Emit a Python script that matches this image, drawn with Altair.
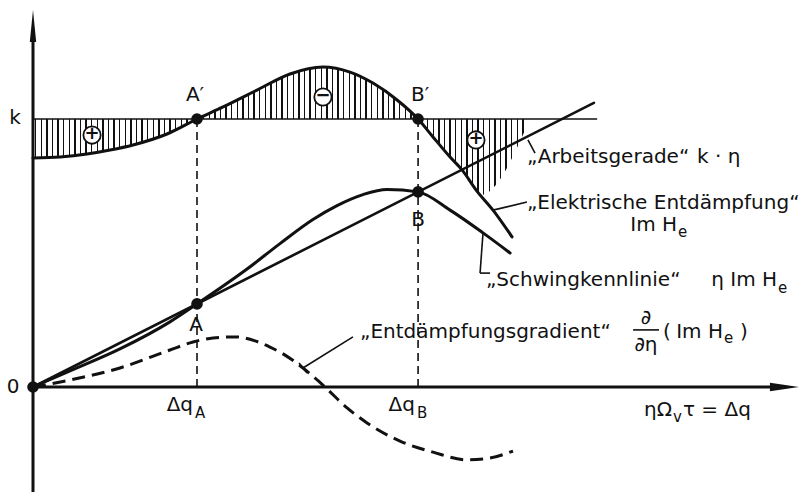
import altair as alt
import pandas as pd

# --- curves (x = eta*Omega_v*tau = Δq, y in units of k) ---------------------
imhe_x = [0.0, 0.165, 0.329, 0.470, 0.610, 0.817, 1.0, 1.159, 1.366, 1.567, 1.768,
          1.933, 2.073, 2.220, 2.348, 2.439, 2.543, 2.616, 2.707, 2.805, 2.921]
imhe_y = [0.854, 0.858, 0.869, 0.884, 0.903, 0.944, 1.0, 1.045, 1.108, 1.168, 1.194,
          1.175, 1.134, 1.071, 1.0, 0.933, 0.858, 0.810, 0.731, 0.660, 0.560]

schwing_x = [0.0, 0.226, 0.530, 0.835, 1.0, 1.305, 1.506, 1.707, 1.854,
             2.012, 2.159, 2.348, 2.543, 2.744, 2.909]
schwing_y = [0.0, 0.060, 0.142, 0.243, 0.310, 0.440, 0.535, 0.625, 0.677,
             0.718, 0.737, 0.728, 0.660, 0.575, 0.500]

grad_x = [0.0, 0.226, 0.530, 0.835, 0.976, 1.098, 1.232, 1.354, 1.445, 1.537, 1.646,
          1.780, 1.915, 2.037, 2.238, 2.439, 2.646, 2.787, 2.927]
grad_y = [0.0, 0.026, 0.071, 0.138, 0.168, 0.183, 0.187, 0.172, 0.149, 0.119, 0.071,
          0.0, -0.078, -0.134, -0.202, -0.243, -0.272, -0.265, -0.239]

k_level = 1.0
k_slope = 0.31          # Arbeitsgerade k·η
line_x_end = 3.42
k_line_end = 3.44

# hatched region between Im He and k (closing edge on the right)
hatch_x = imhe_x[:19] + [2.726, 3.030]
hatch_y = imhe_y[:19] + [0.716, 1.0]

# operating points A', B' (on k) and A, B (on Arbeitsgerade)
dq_a, dq_b = 1.0, 2.348

# --- scales -----------------------------------------------------------------
xs = alt.Scale(domain=[-0.2012, 4.7012], nice=False, zero=False)
ys = alt.Scale(domain=[-0.3918, 1.444], nice=False, zero=False)
X = lambda f="x": alt.X(f"{f}:Q", scale=xs, axis=None)
Y = lambda f="y": alt.Y(f"{f}:Q", scale=ys, axis=None)
INK = "#111111"
FONT = "DejaVu Sans"


def df(**cols):
    return pd.DataFrame(cols)


# vertical hatching drawn as a striped gradient fill
stops = [alt.GradientStop(offset=0, color="rgba(0,0,0,0)")]
width_px, step_px, lw_px = 497.0, 5.6, 1.5
n = int(width_px // step_px)
for i in range(n):
    s = (2.0 + i * step_px) / width_px
    e = min(1.0, s + lw_px / width_px)
    stops += [alt.GradientStop(offset=s, color="rgba(0,0,0,0)"),
              alt.GradientStop(offset=s, color=INK),
              alt.GradientStop(offset=e, color=INK),
              alt.GradientStop(offset=e, color="rgba(0,0,0,0)")]
hatch_fill = alt.LinearGradient(gradient="linear", stops=stops, x1=0, x2=1, y1=0, y2=0)

hatch = alt.Chart(df(x=hatch_x, y=hatch_y, y2=[k_level] * len(hatch_x))).mark_area(
    color=hatch_fill, interpolate="monotone"
).encode(x=X(), y=Y(), y2="y2:Q")

k_line = alt.Chart(df(x=[0.0], x2=[k_line_end], y=[k_level])).mark_rule(
    color=INK, strokeWidth=1.6
).encode(x=X(), x2="x2:Q", y=Y())

imhe = alt.Chart(df(x=imhe_x, y=imhe_y)).mark_line(
    color=INK, strokeWidth=3, interpolate="monotone", strokeCap="round"
).encode(x=X(), y=Y())

schwing = alt.Chart(df(x=schwing_x, y=schwing_y)).mark_line(
    color=INK, strokeWidth=3, interpolate="monotone", strokeCap="round"
).encode(x=X(), y=Y())

arbeit = alt.Chart(df(x=[0.0], x2=[line_x_end], y=[0.0], y2=[k_slope * line_x_end])).mark_rule(
    color=INK, strokeWidth=2.6, strokeCap="round"
).encode(x=X(), x2="x2:Q", y=Y(), y2="y2:Q")

gradient = alt.Chart(df(x=grad_x, y=grad_y)).mark_line(
    color=INK, strokeWidth=3, interpolate="monotone", strokeDash=[13, 7]
).encode(x=X(), y=Y())

drops = alt.Chart(df(x=[dq_a, dq_b], y=[0.0, 0.0], y2=[k_level, k_level])).mark_rule(
    color=INK, strokeWidth=1.6, strokeDash=[8, 5]
).encode(x=X(), y=Y(), y2="y2:Q")

# axes with arrow heads
axes = alt.Chart(df(x=[0.0, 0.0], x2=[0.0, 4.52], y=[-0.392, 0.0], y2=[1.30, 0.0])).mark_rule(
    color=INK, strokeWidth=3
).encode(x=X(), x2="x2:Q", y=Y(), y2="y2:Q")
arrow_up = alt.Chart(df(x=[0.0], y=[1.347])).mark_point(
    shape="M0,-1L0.2,1L-0.2,1Z", size=1024, filled=True, color=INK, opacity=1
).encode(x=X(), y=Y())
arrow_right = alt.Chart(df(x=[4.582], y=[0.0])).mark_point(
    shape="M1,0L-1,-0.3L-1,0.3Z", size=841, filled=True, color=INK, opacity=1
).encode(x=X(), y=Y())

# leader lines for the curve labels
leaders = alt.Chart(df(
    x=[3.018, 2.805, 2.744, 2.726, 1.951, 1.622],
    x2=[3.061, 3.012, 2.726, 2.787, 1.646, 1.671],
    y=[0.922, 0.660, 0.575, 0.425, 0.187, 0.0896],
    y2=[0.873, 0.690, 0.425, 0.425, 0.071, 0.0522],
)).mark_rule(color=INK, strokeWidth=1.6).encode(x=X(), x2="x2:Q", y=Y(), y2="y2:Q")

frac_bar = alt.Chart(df(x=[3.659], x2=[3.817], y=[0.213])).mark_rule(
    color=INK, strokeWidth=1.6
).encode(x=X(), x2="x2:Q", y=Y())

points = alt.Chart(df(x=[0.0, dq_a, dq_b, dq_a, dq_b],
                      y=[0.0, k_level, k_level, k_slope * dq_a, k_slope * dq_b])).mark_point(
    shape="circle", size=135, filled=True, color=INK, opacity=1
).encode(x=X(), y=Y())

# circled signs inside the hatched areas
sign_x = [0.360, 1.768, 2.701]
sign_y = [0.940, 1.082, 0.922]
sign_t = ["+", "−", "+"]
sign_circles = alt.Chart(df(x=sign_x, y=sign_y)).mark_point(
    shape="circle", size=300, filled=False, fill="white", fillOpacity=1,
    stroke=INK, strokeWidth=1.8, opacity=1
).encode(x=X(), y=Y())
sign_text = alt.Chart(df(x=sign_x, y=sign_y, t=sign_t)).mark_text(
    font=FONT, fontSize=18, fontWeight="bold", color=INK, baseline="middle", align="center", dy=-1
).encode(x=X(), y=Y(), text="t:N")

# left-aligned labels
left_labels = df(
    t=["„Arbeitsgerade“", "k · η", "„Elektrische Entdämpfung“",
       "„Schwingkennlinie“", "„Entdämpfungsgradient“", "(", ")", "τ = Δq"],
    x=[3.012, 4.049, 3.012, 2.762, 1.994, 3.842, 4.311, 3.963],
    y=[0.858, 0.858, 0.687, 0.399, 0.205, 0.205, 0.205, -0.086],
)
left = alt.Chart(left_labels).mark_text(
    font=FONT, fontSize=20, color=INK, align="left", baseline="middle"
).encode(x=X(), y=Y(), text="t:N")

# text that carries a subscript: body ends where the subscript starts
body_labels = df(
    t=["Im H", "η Im H", "Im H", "ηΩ", "Δq", "Δq"],
    x=[3.927, 4.537, 4.207, 3.896, 0.976, 2.329],
    y=[0.604, 0.399, 0.205, -0.086, -0.067, -0.067],
)
body = alt.Chart(body_labels).mark_text(
    font=FONT, fontSize=20, color=INK, align="right", baseline="middle"
).encode(x=X(), y=Y(), text="t:N")

subs = df(
    t=["e", "e", "e", "v", "A", "B"],
    x=[3.933, 4.543, 4.213, 3.902, 0.988, 2.341],
    y=[0.578, 0.369, 0.183, -0.112, -0.097, -0.097],
)
sub = alt.Chart(subs).mark_text(
    font=FONT, fontSize=15, color=INK, align="left", baseline="middle"
).encode(x=X(), y=Y(), text="t:N")

centered = df(
    t=["0", "k", "A′", "B′", "A", "B", "∂", "∂η"],
    x=[-0.122, -0.110, 0.988, 2.360, 0.994, 2.348, 3.738, 3.738],
    y=[0.0, 1.004, 1.090, 1.090, 0.231, 0.623, 0.257, 0.157],
)
cen = alt.Chart(centered).mark_text(
    font=FONT, fontSize=20, color=INK, align="center", baseline="middle"
).encode(x=X(), y=Y(), text="t:N")

chart = alt.layer(
    hatch, k_line, drops, gradient, imhe, schwing, arbeit, axes, arrow_up, arrow_right,
    leaders, frac_bar, points, sign_circles, sign_text, left, body, sub, cen
).properties(
    width=804, height=492, padding=0, autosize=alt.AutoSizeParams(type="none"),
    background="white"
).configure_view(stroke=None)

chart.save("out.html", embed_options={"renderer": "svg", "actions": False})
